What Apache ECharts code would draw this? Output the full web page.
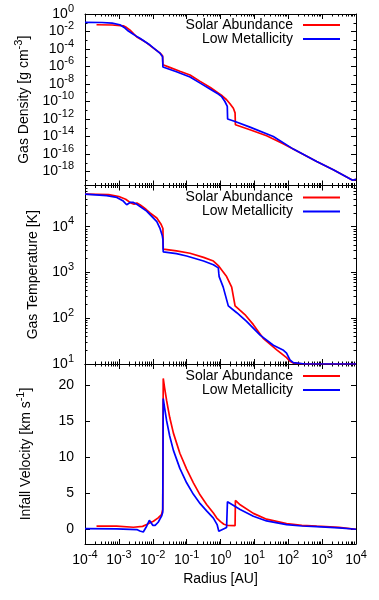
<!DOCTYPE html>
<html><head><meta charset="utf-8">
<script src="https://cdn.jsdelivr.net/npm/echarts@6/dist/echarts.min.js"></script>
<style>html,body{margin:0;padding:0;background:#fff}#c{width:379px;height:600px}</style>
</head><body><div id="c"></div>
<script>
// ---- data: [log10(radius/AU), value] ----
// Panel 1: log10 gas density [g cm^-3]
const densSolar = [[-3.66,-1.23],[-3.2,-1.26],[-2.87,-1.35],[-2.77,-1.55],[-2.67,-1.85],[-2.57,-2.24],[-2.47,-2.62],[-2.3,-3.0],[-2.18,-3.3],[-2.0,-3.85],[-1.79,-4.45],[-1.71,-4.78],[-1.70,-5.8],[-1.5,-6.1],[-1.2,-6.55],[-0.9,-6.98],[-0.6,-7.7],[-0.3,-8.4],[-0.06,-9.05],[0.05,-9.35],[0.18,-9.8],[0.28,-10.25],[0.38,-10.78],[0.43,-11.3],[0.44,-12.66],[0.87,-13.23],[1.36,-13.92],[1.85,-14.83],[2.2,-15.55],[2.84,-16.86],[3.33,-17.81],[3.9,-19.0],[4.0,-18.9]];
const densLow = [[-4.0,-0.95],[-3.5,-0.97],[-3.2,-1.05],[-2.97,-1.23],[-2.82,-1.6],[-2.72,-1.95],[-2.62,-2.2],[-2.5,-2.5],[-2.38,-2.78],[-2.08,-3.55],[-1.79,-4.47],[-1.71,-4.88],[-1.70,-6.05],[-1.3,-6.6],[-0.9,-7.2],[-0.6,-7.9],[-0.3,-8.6],[-0.065,-9.15],[0.035,-9.45],[0.13,-10.0],[0.2,-10.55],[0.21,-12.0],[0.43,-12.28],[0.87,-12.93],[1.56,-14.0],[2.15,-15.44],[2.84,-16.86],[3.33,-17.81],[3.9,-19.0],[4.0,-18.9]];
// Panel 2: log10 gas temperature [K]
const tempSolar = [[-4,4.71],[-3.3,4.70],[-3.0,4.66],[-2.8,4.60],[-2.65,4.52],[-2.55,4.49],[-2.47,4.52],[-2.38,4.48],[-2.2,4.38],[-2.08,4.30],[-1.88,4.19],[-1.76,4.06],[-1.70,3.96],[-1.69,3.51],[-1.3,3.47],[-0.9,3.42],[-0.5,3.33],[-0.21,3.25],[-0.065,3.15],[0.18,2.91],[0.33,2.68],[0.43,2.27],[0.58,2.17],[0.72,2.08],[0.97,1.86],[1.26,1.56],[1.66,1.31],[1.95,1.14],[2.05,1.06],[2.15,1.02],[2.5,1.0],[4,1.0]];
const tempLow = [[-4,4.71],[-3.36,4.68],[-3.06,4.64],[-2.87,4.56],[-2.77,4.48],[-2.67,4.53],[-2.57,4.53],[-2.47,4.49],[-2.18,4.34],[-1.88,4.11],[-1.79,3.97],[-1.72,3.81],[-1.70,3.72],[-1.69,3.45],[-1.3,3.41],[-1.0,3.36],[-0.5,3.25],[-0.21,3.17],[-0.065,3.10],[-0.05,2.98],[-0.04,2.91],[0.08,2.68],[0.23,2.27],[0.48,2.12],[0.77,1.93],[1.17,1.63],[1.56,1.41],[1.86,1.30],[1.95,1.24],[2.05,1.09],[2.15,1.03],[2.5,1.0],[4,1.0]];
// Panel 3: infall velocity [km/s]
const velSolar = [[-3.66,0.47],[-3.07,0.47],[-2.57,0.33],[-2.3,0.45],[-2.18,0.7],[-2.08,0.95],[-2.03,1.15],[-1.98,1.16],[-1.84,1.63],[-1.74,2.09],[-1.705,2.8],[-1.69,21.0],[-1.65,19.7],[-1.59,17.9],[-1.5,15.6],[-1.39,13.4],[-1.2,10.6],[-1.0,8.4],[-0.8,6.5],[-0.6,4.8],[-0.41,3.5],[-0.21,2.3],[-0.11,1.6],[0.0,1.1],[0.1,0.75],[0.2,0.6],[0.43,0.55],[0.44,4.05],[0.58,3.45],[0.97,2.25],[1.36,1.45],[1.95,0.85],[2.4,0.6],[2.84,0.47],[3.5,0.3],[4.0,0.05]];
const velLow = [[-4.0,0.14],[-3.07,0.1],[-2.47,0.0],[-2.38,-0.2],[-2.28,-0.33],[-2.18,0.47],[-2.1,1.3],[-2.05,1.1],[-2.0,0.6],[-1.93,0.6],[-1.84,1.02],[-1.74,1.86],[-1.705,2.4],[-1.69,18.2],[-1.65,16.9],[-1.59,15.1],[-1.5,13.0],[-1.39,11.0],[-1.2,8.5],[-1.0,6.5],[-0.8,4.9],[-0.6,3.6],[-0.41,2.6],[-0.21,1.6],[-0.1,0.7],[-0.05,-0.22],[0.18,0.3],[0.2,0.35],[0.205,3.86],[0.58,2.79],[0.97,1.86],[1.36,1.2],[1.95,0.7],[2.4,0.5],[2.84,0.4],[3.5,0.25],[4.0,0.05]];

// ---- tick labels ----
const xTickExp = [-4,-3,-2,-1,0,1,2,3,4];
const densTickExp = [-18,-16,-14,-12,-10,-8,-6,-4,-2,0];
const densMinorExp = [-19,-17,-15,-13,-11,-9,-7,-5,-3,-1];
const tempTickExp = [1,2,3,4];
const velTicks = [0,5,10,15,20];
const seriesNames = ['Solar Abundance','Low Metallicity'];
const colors = ['#ff0000','#0000ff'];

// ---- layout / styles ----
const FONT = 'Liberation Sans';
const L = 85, W = 271;
const rects = [[14,171.5],[185.5,178.5],[364,180]];
const yRanges = [[-19.6,0],[1,4.9],[-2,23]];
const AX = {color:'#000', width:1};
const rich = {
  b:{fontSize:14, fontFamily:FONT, color:'#000', verticalAlign:'bottom'},
  s:{fontSize:11, fontFamily:FONT, color:'#000', verticalAlign:'top', padding:[-4,0,0,0]}
};
const expFmt = v => '{b|10}{s|' + Math.round(v) + '}';
const minorLog = (from, to, max) => { const a=[]; for(let n=from;n<=to;n++) for(let k=2;k<=9;k++){const v=n+Math.log10(k); if(v<=max) a.push(v);} return a; };
const xMinor = minorLog(-4,3,4);
const tempMinor = minorLog(1,4,yRanges[1][1]);
const labelBase = {hideOverlap:false, showMinLabel:true, showMaxLabel:true};

const grids = [], xAxes = [], yAxes = [], series = [];
rects.forEach(r => grids.push({left:L, top:r[0], width:W, height:r[1], outerBoundsMode:'none'}));
rects.forEach(r => grids.push({left:L, top:r[0], width:W, height:r[1], outerBoundsMode:'none'}));

function xA(gi, pos, ticks, len, line, extra) {
  xAxes.push(Object.assign({type:'value', gridIndex:gi, position:pos, min:-4, max:4,
    axisLine:{show:line, onZero:false, lineStyle:AX},
    axisTick:{show:true, inside:true, length:len, customValues:ticks, lineStyle:AX},
    axisLabel:{show:false}, splitLine:{show:false}}, extra||{}));
  return xAxes.length-1;
}
function yA(gi, pos, rng, ticks, len, line, extra) {
  yAxes.push(Object.assign({type:'value', gridIndex:gi, position:pos, min:rng[0], max:rng[1],
    axisLine:{show:line, onZero:false, lineStyle:AX},
    axisTick:{show:ticks.length>0, inside:true, length:len, customValues:ticks, lineStyle:AX},
    axisLabel:{show:false}, splitLine:{show:false}}, extra||{}));
  return yAxes.length-1;
}
const expLabel = vals => Object.assign({show:true, customValues:vals, formatter:expFmt, rich:rich, margin:11}, labelBase);

const yMajor = [densTickExp, tempTickExp, velTicks];
const yMinor = [densMinorExp, tempMinor, []];
const yNames = ['{b|Gas Density [g cm}{s|-3}{b|]}', '{b|Gas Temperature [K]}', '{b|Infall Velocity [km s}{s|-1}{b|]}'];
const nameGaps = [51, 45, 52];
const seriesData = [[densSolar, densLow],[tempSolar, tempLow],[velSolar, velLow]];

for (let g=0; g<3; g++) {
  const xExtra = g===2 ? {
    axisLabel:Object.assign({show:true, customValues:xTickExp, formatter:expFmt, rich:rich, margin:9}, labelBase),
    name:'Radius [AU]', nameLocation:'middle', nameGap:28,
    nameTextStyle:{fontSize:14, fontFamily:FONT, color:'#000'}
  } : {};
  const xi = xA(g, 'bottom', xTickExp, 5, true, xExtra);
  xA(g, 'top', xTickExp, 5, true);
  // density labels are split over two axes so that none is dropped as overlapping
  const mainLabels = g===0 ? yMajor[g].filter((v,i)=>i%2===0) : yMajor[g];
  const lab = g===2
    ? Object.assign({show:true, customValues:velTicks, margin:11, fontSize:14, fontFamily:FONT, color:'#000'}, labelBase)
    : expLabel(mainLabels);
  const yi = yA(g, 'left', yRanges[g], yMajor[g], 5, true, {
    axisLabel:lab, name:yNames[g], nameLocation:'middle', nameGap:nameGaps[g],
    nameTextStyle:{fontSize:14, fontFamily:FONT, color:'#000', rich:rich}
  });
  yA(g, 'right', yRanges[g], yMajor[g], 5, true);
  // minor tick overlay grid
  xA(g+3, 'bottom', xMinor, 2.5, false);
  xA(g+3, 'top', xMinor, 2.5, false);
  yA(g+3, 'left', yRanges[g], yMinor[g], 2.5, false,
     g===0 ? {axisLabel:expLabel(yMajor[g].filter((v,i)=>i%2===1))} : {});
  yA(g+3, 'right', yRanges[g], yMinor[g], 2.5, false);
  seriesData[g].forEach((d, k) => series.push({
    type:'line', name:seriesNames[k], xAxisIndex:xi, yAxisIndex:yi, data:d,
    showSymbol:false, symbol:'none', clip:true, z:2+k,
    itemStyle:{color:colors[k]}, lineStyle:{color:colors[k], width:1.7}
  }));
}

const legendTops = [18, 190.5, 369];
const legends = legendTops.map(t => ({
  top:t, right:39, orient:'vertical', align:'right', itemWidth:37, itemHeight:2, itemGap:0,
  padding:0, icon:'rect', selectedMode:false, data:seriesNames,
  textStyle:{fontSize:14, color:'#000', fontFamily:FONT, padding:[0,5,0,0]}
}));

const chart = echarts.init(document.getElementById('c'), null, {renderer:'canvas'});
chart.setOption({
  animation:false, backgroundColor:'#fff',
  textStyle:{fontFamily:FONT},
  grid:grids, xAxis:xAxes, yAxis:yAxes, legend:legends, series:series
});
</script></body></html>
